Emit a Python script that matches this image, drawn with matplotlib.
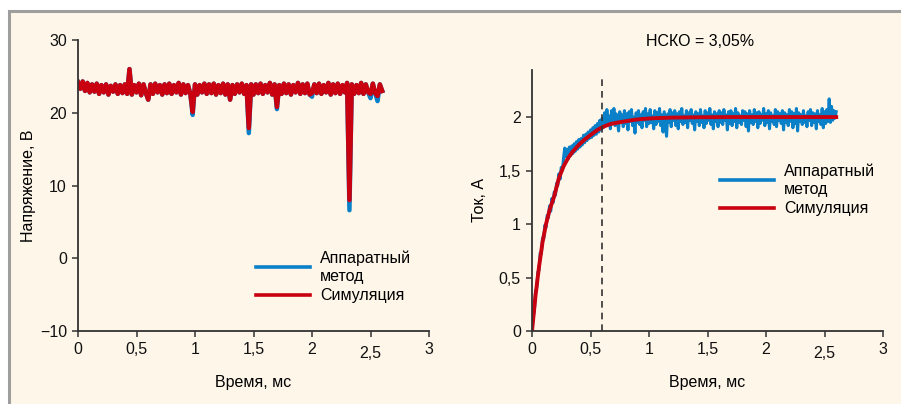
import numpy as np
import matplotlib
matplotlib.use("Agg")
import matplotlib.pyplot as plt
from matplotlib.patches import Rectangle
from matplotlib.lines import Line2D

plt.rcParams['font.family'] = ['Liberation Sans', 'DejaVu Sans']

BG = "#fef6e9"
BLUE = "#0a80c8"
RED = "#c8000f"
DARK = "#333333"

# left panel: voltage, samples every 0.02 ms from 0 to 2.6 ms
hw_voltage = [
    24.2, 23.3, 24.3, 23.0, 24.1, 22.8, 23.9, 22.9, 24.0, 22.6,
    23.8, 22.8, 23.9, 22.5, 23.7, 22.9, 23.9, 22.6, 23.8, 22.7,
    23.9, 22.6, 26.0, 22.5, 23.8, 22.8, 24.0, 22.4, 23.9, 22.7,
    21.8, 23.9, 22.6, 24.0, 22.8, 23.8, 22.5, 23.9, 22.7, 24.0,
    22.6, 23.8, 22.8, 24.1, 22.5, 23.9, 22.7, 23.8, 22.6, 19.7,
    23.9, 22.5, 23.8, 22.8, 24.0, 22.6, 23.9, 22.7, 24.0, 22.5,
    23.8, 22.7, 24.0, 22.5, 23.9, 21.8, 23.8, 22.6, 23.9, 22.8,
    24.0, 22.6, 23.8, 17.2, 23.9, 22.5, 23.9, 22.7, 24.0, 22.6,
    23.8, 22.8, 24.1, 22.5, 23.9, 20.5, 23.8, 22.6, 24.0, 22.7,
    23.9, 22.5, 23.8, 22.8, 24.1, 22.6, 23.9, 22.7, 24.0, 22.5,
    22.2, 23.9, 22.7, 24.0, 22.6, 23.8, 22.8, 24.1, 22.5, 23.9,
    22.7, 24.0, 22.6, 23.8, 22.8, 24.1, 6.6, 23.9, 22.6, 23.8,
    22.7, 24.1, 22.6, 23.9, 22.8, 22.0, 24.0, 22.7, 21.6, 23.9,
    23.0,
]
# simulation follows the hardware trace, only the dips are shallower
sim_voltage = list(hw_voltage)
sim_dips = {49: 20.1, 73: 17.9, 85: 20.8, 100: 22.7, 116: 8.0, 125: 22.6, 128: 22.3}
for i, v in sim_dips.items():
    sim_voltage[i] = v
t_voltage = np.linspace(0, 2.6, len(hw_voltage))

# right panel: current, samples every 0.01 ms
hw_current = [
    0.00, 0.13, 0.19, 0.37, 0.40, 0.55, 0.57, 0.73, 0.72, 0.87,
    0.86, 0.99, 0.97, 1.08, 1.06, 1.17, 1.12, 1.24, 1.20, 1.30,
    1.27, 1.38, 1.36, 1.47, 1.42, 1.53, 1.50, 1.62, 1.71, 1.63,
    1.70, 1.61, 1.72, 1.64, 1.73, 1.66, 1.75, 1.68, 1.77, 1.70,
    1.79, 1.72, 1.80, 1.74, 1.83, 1.76, 1.84, 1.78, 1.86, 1.80,
    1.88, 1.81, 1.90, 1.83, 1.92, 1.84, 1.94, 1.86, 1.97, 1.88,
    1.99,
    1.90, 2.04, 1.93, 2.07, 1.96, 2.01, 1.89, 2.06, 1.94, 2.08,
    1.92, 2.03, 1.97, 1.87, 2.05, 1.95, 2.02, 1.91, 2.06, 1.94,
    2.03, 1.88, 2.05, 1.96, 2.07, 1.92, 2.00, 1.85, 2.04, 1.95,
    2.06, 1.93, 2.02, 1.90, 2.05, 1.97, 2.08, 1.91, 2.03, 1.94,
    2.07, 1.95, 2.01, 1.89, 2.06, 1.93, 2.04, 1.96, 2.08, 1.92,
    2.02, 1.86, 2.05, 1.94, 1.82, 2.03, 1.95, 2.07, 1.91, 2.04,
    1.97, 2.06, 1.92, 2.03, 1.89, 2.05, 1.96, 2.08, 1.93, 2.01,
    1.95, 2.06, 1.90, 2.04, 1.97, 2.07, 1.94, 2.02, 1.88, 2.05,
    1.96, 2.03, 1.92, 2.07, 1.95, 2.01, 1.90, 2.06, 1.94, 2.04,
    1.97, 2.08, 1.93, 2.02, 1.89, 2.05, 1.96, 2.03, 1.91, 2.06,
    1.95, 2.04, 1.93, 2.07, 1.97, 2.02, 1.88, 2.05, 1.94, 2.06,
    1.92, 2.03, 1.96, 2.08, 1.90, 2.04, 1.95, 2.01, 1.93, 2.06,
    1.97, 2.05, 1.91, 2.03, 1.87, 2.06, 1.95, 2.02, 1.93, 2.07,
    1.96, 2.04, 1.90, 2.05, 1.94, 2.02, 1.97, 2.08, 1.92, 2.03,
    1.95, 2.06, 1.89, 2.04, 1.96, 2.01, 1.93, 2.07, 1.91, 2.05,
    1.97, 2.03, 1.94, 2.06, 1.88, 2.04, 1.95, 2.02, 1.92, 2.07,
    1.96, 2.05, 1.90, 2.03, 1.94, 2.08, 1.87, 2.04, 1.96, 2.02,
    1.93, 2.06, 1.95, 2.01, 1.91, 2.05, 1.97, 2.07, 1.92, 2.04,
    1.95, 2.03, 1.89, 2.06, 1.96, 2.02, 1.93, 2.08, 1.90, 2.05,
    1.94, 2.07, 1.96, 2.17, 1.95, 2.10, 1.97, 2.06, 1.99, 2.05,
]
t_current = np.linspace(0, 2.6, len(hw_current))

t_sim = [0, 0.03, 0.06, 0.09, 0.12, 0.15, 0.19, 0.23, 0.27, 0.31, 0.35, 0.40, 0.45,
         0.51, 0.56, 0.61, 0.67, 0.74, 0.81, 0.88, 0.95, 1.05, 1.2, 1.4, 1.7, 2.0, 2.3, 2.6]
sim_current = [0, 0.33, 0.60, 0.83, 1.00, 1.13, 1.26, 1.43, 1.54, 1.62, 1.68, 1.74, 1.79,
               1.84, 1.88, 1.91, 1.935, 1.95, 1.963, 1.975, 1.983, 1.99, 1.995, 1.998,
               2.0, 2.0, 2.0, 2.0]

x_ticks = [0, 0.5, 1, 1.5, 2, 2.5, 3]
x_labels = ["0", "0,5", "1", "1,5", "2", "2,5", "3"]
legend_labels = ["Аппаратный\nметод", "Симуляция"]

FS = 11.5

fig = plt.figure(figsize=(9.01, 4.04), dpi=100)
fig.patch.set_facecolor("white")
# cream panel with grey frame on top and left
fig.patches.append(Rectangle((9 / 901, -0.05), 1.1, (404 - 11) / 404 + 0.05,
                             transform=fig.transFigure, facecolor=BG,
                             edgecolor="#9e9e9e", linewidth=2.2, zorder=-10))


def style(ax, xlab_y):
    ax.set_facecolor("none")
    for s in ["top", "right"]:
        ax.spines[s].set_visible(False)
    for s in ["left", "bottom"]:
        ax.spines[s].set_color(DARK)
        ax.spines[s].set_linewidth(1.3)
    ax.tick_params(direction="out", length=4.5, width=1.1, color=DARK,
                   labelsize=FS, labelcolor="#111111")
    ax.set_xlim(0, 3)
    ax.set_xticks(x_ticks)
    ax.set_xticklabels(x_labels)
    ax.xaxis.get_major_ticks()[5].set_pad(6.5)
    ax.set_xlabel("Время, мс", fontsize=FS)
    ax.xaxis.set_label_coords(0.5, xlab_y)
    ax.xaxis.label.set_va("center")


ax1 = fig.add_axes([78 / 901, 73 / 404, 351 / 901, 291 / 404])
ax1.plot(t_voltage, hw_voltage, color=BLUE, lw=3.2)
ax1.plot(t_voltage, sim_voltage, color=RED, lw=3.2)
style(ax1, -52 / 291)
ax1.set_ylim(-10, 30)
ax1.set_yticks([-10, 0, 10, 20, 30])
ax1.set_yticklabels(["\u221210", "0", "10", "20", "30"])
ax1.set_ylabel("Напряжение, В", fontsize=FS)
ax1.yaxis.set_label_coords((28 - 78) / 351, 0.5)
ax1.yaxis.label.set_va("center")

ax2 = fig.add_axes([532 / 901, 73 / 404, 351 / 901, 261 / 404])
ax2.plot(t_current, hw_current, color=BLUE, lw=2.2)
ax2.plot(t_sim, sim_current, color=RED, lw=2.8)
ax2.plot([0.6, 0.6], [0, 2.36], color=DARK, lw=1.2, ls=(0, (4, 3)))
style(ax2, -52 / 261)
ax2.set_ylim(0, 2.44)
ax2.set_yticks([0, 0.5, 1, 1.5, 2])
ax2.set_yticklabels(["0", "0,5", "1", "1,5", "2"])
ax2.set_ylabel("Ток, А", fontsize=FS)
ax2.yaxis.set_label_coords((480 - 532) / 351, 0.5)
ax2.yaxis.label.set_va("center")
fig.text(700 / 901, 1 - 42 / 404, "НСКО = 3,05%", fontsize=FS, ha="center", va="center")

handles = [Line2D([], [], color=BLUE, lw=2.6), Line2D([], [], color=RED, lw=2.6)]
for ax, anchor in [(ax1, ((256 - 78) / 351, (331 - 250) / 291)),
                   (ax2, ((720 - 532) / 351, (331 - 163) / 261))]:
    leg = ax.legend(handles, legend_labels, loc="upper left", bbox_to_anchor=anchor,
                    frameon=False, fontsize=FS, borderpad=0, borderaxespad=0,
                    handlelength=3.4, handletextpad=0.6, labelspacing=0.25)
    leg.get_texts()[0].set_linespacing(1.3)

fig.savefig("out.png", dpi=100, facecolor=fig.get_facecolor())
